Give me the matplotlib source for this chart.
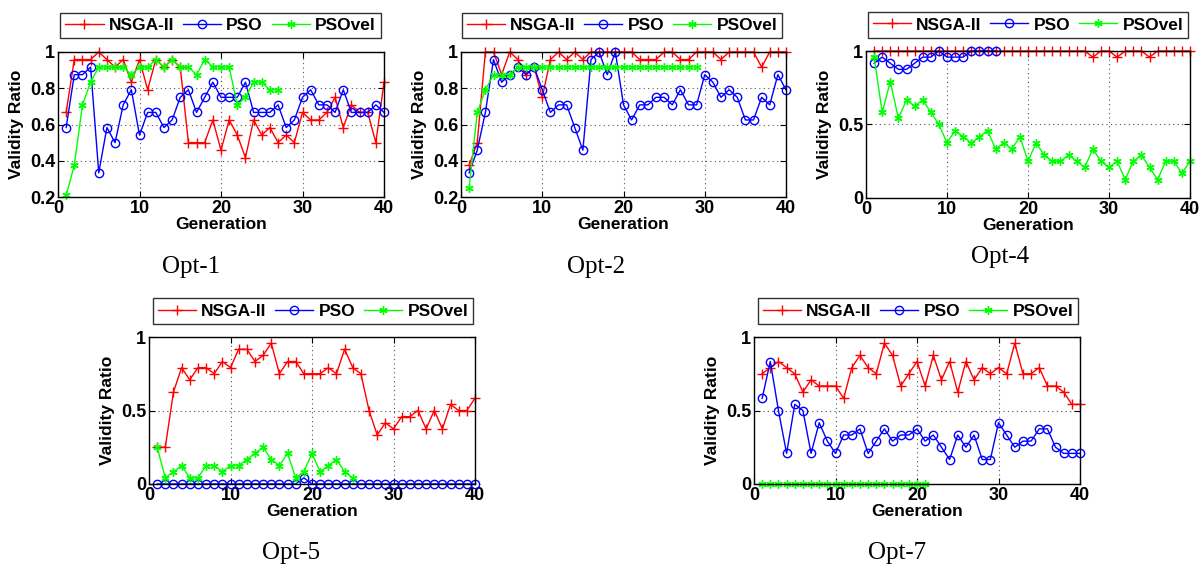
import matplotlib
matplotlib.use("Agg")
import matplotlib.pyplot as plt
import numpy as np

# Population size: validity ratio = valid individuals / POP_SIZE
POP_SIZE = 24

# Valid-individual counts per generation
opt1_nsga = [16, 23, 23, 23, 24, 23, 22, 23, 20, 23, 19, 23, 22, 23, 22, 12, 12, 12, 15, 11,
             15, 13, 10, 15, 13, 14, 12, 13, 12, 16, 15, 15, 16, 18, 14, 17, 16, 16, 12, 20]
opt1_pso = [14, 21, 21, 22, 8, 14, 12, 17, 19, 13, 16, 16, 14, 15, 18, 19, 16, 18, 20, 18,
            18, 18, 20, 16, 16, 16, 17, 14, 15, 18, 19, 17, 17, 16, 19, 16, 16, 16, 17, 16]
opt1_psovel = [5, 9, 17, 20, 22, 22, 22, 22, 21, 22, 22, 23, 22, 23, 22, 22, 21, 23, 22, 22,
               22, 17, 18, 20, 20, 19, 19]

opt2_nsga = [9, 12, 24, 24, 21, 24, 23, 21, 22, 18, 23, 24, 23, 24, 23, 24, 24, 24, 24, 24,
             24, 23, 23, 23, 24, 24, 23, 23, 24, 24, 24, 23, 24, 24, 24, 24, 22, 24, 24, 24]
opt2_pso = [8, 11, 16, 23, 20, 21, 22, 21, 22, 19, 16, 17, 17, 14, 11, 23, 24, 21, 24, 17,
            15, 17, 17, 18, 18, 17, 19, 17, 17, 21, 20, 18, 19, 18, 15, 15, 18, 17, 21, 19]
opt2_psovel = [6, 16, 19, 21, 21, 21, 22, 22, 22, 22, 22, 22, 22, 22, 22, 22, 22, 22, 22, 22,
               22, 22, 22, 22, 22, 22, 22, 22, 22]

opt4_nsga = [24, 24, 24, 24, 24, 24, 24, 24, 24, 24, 24, 24, 24, 24, 24, 24, 24, 24, 24, 24,
             24, 24, 24, 24, 24, 24, 24, 23, 24, 24, 23, 24, 24, 24, 23, 24, 24, 24, 24, 24]
opt4_pso = [22, 23, 22, 21, 21, 22, 23, 23, 24, 23, 23, 23, 24, 24, 24, 24]
opt4_psovel = [23, 14, 19, 13, 16, 15, 16, 14, 12, 9, 11, 10, 9, 10, 11, 8, 9, 8, 10, 6,
               9, 7, 6, 6, 7, 6, 5, 8, 6, 5, 6, 3, 6, 7, 5, 3, 6, 6, 4, 6]

opt5_nsga = [6, 6, 15, 19, 17, 19, 19, 18, 20, 19, 22, 22, 20, 21, 23, 18, 20, 20, 18, 18,
             18, 19, 18, 22, 19, 18, 12, 8, 10, 9, 11, 11, 12, 9, 12, 9, 13, 12, 12, 14]
opt5_pso = [0, 0, 0, 0, 0, 0, 0, 0, 0, 0, 0, 0, 0, 0, 0, 0, 0, 0, 1, 0,
            0, 0, 0, 0, 0, 0, 0, 0, 0, 0, 0, 0, 0, 0, 0, 0, 0, 0, 0, 0]
opt5_psovel = [6, 1, 2, 3, 1, 1, 3, 3, 2, 3, 3, 4, 5, 6, 4, 3, 5, 1, 2, 5,
               2, 3, 4, 2, 1]

opt7_nsga = [18, 19, 20, 19, 18, 15, 17, 16, 16, 16, 14, 19, 21, 19, 18, 23, 21, 16, 18, 20,
             16, 21, 17, 20, 15, 20, 17, 19, 18, 19, 18, 23, 18, 18, 19, 16, 16, 15, 13, 13]
opt7_pso = [14, 20, 12, 5, 13, 12, 5, 10, 7, 5, 8, 8, 9, 5, 7, 9, 7, 8, 8, 9,
            7, 8, 6, 4, 8, 6, 8, 4, 4, 10, 8, 6, 7, 7, 9, 9, 6, 5, 5, 5]
opt7_psovel = [0] * 21

series_labels = ["NSGA-II", "PSO", "PSOvel"]
panel_titles = ["Opt-1", "Opt-2", "Opt-4", "Opt-5", "Opt-7"]
x_label = "Generation"
y_label = "Validity Ratio"
x_ticks = [0, 10, 20, 30, 40]

W, H = 1204, 569
fig = plt.figure(figsize=(W / 100, H / 100), dpi=100)
plt.rcParams["font.family"] = ["Liberation Sans", "DejaVu Sans"]

def fx(px):
    return px / W

def fy(py):
    return 1 - py / H

# (left, top, right, bottom) of each axes in pixels, legend box, caption pos
panels = [
    dict(data=(opt1_nsga, opt1_pso, opt1_psovel), box=(58, 52, 384, 197),
         leg=(61, 12, 380, 39), ylim=(0.2, 1.0), yticks=[0.2, 0.4, 0.6, 0.8, 1.0],
         yticklabels=["0.2", "0.4", "0.6", "0.8", "1"], cap=(191, 267)),
    dict(data=(opt2_nsga, opt2_pso, opt2_psovel), box=(461, 52, 786, 197),
         leg=(463, 12, 781, 39), ylim=(0.2, 1.0), yticks=[0.2, 0.4, 0.6, 0.8, 1.0],
         yticklabels=["0.2", "0.4", "0.6", "0.8", "1"], cap=(596, 267)),
    dict(data=(opt4_nsga, opt4_pso, opt4_psovel), box=(866, 51, 1190, 198),
         leg=(868, 12, 1188, 38), ylim=(0.0, 1.0), yticks=[0.0, 0.5, 1.0],
         yticklabels=["0", "0.5", "1"], cap=(1000, 257)),
    dict(data=(opt5_nsga, opt5_pso, opt5_psovel), box=(149, 337, 475, 484),
         leg=(153, 298, 473, 324), ylim=(0.0, 1.0), yticks=[0.0, 0.5, 1.0],
         yticklabels=["0", "0.5", "1"], cap=(291, 553)),
    dict(data=(opt7_nsga, opt7_pso, opt7_psovel), box=(754, 337, 1080, 484),
         leg=(758, 298, 1078, 324), ylim=(0.0, 1.0), yticks=[0.0, 0.5, 1.0],
         yticklabels=["0", "0.5", "1"], cap=(897, 553)),
]

colors = ["#ff0000", "#0000ff", "#00ff00"]
markers = ["+", "o", (6, 2, 0)]
msizes = [7, 6, 6]

for title, p in zip(panel_titles, panels):
    l, t, r, b = p["box"]
    ax = fig.add_axes([fx(l), fy(b), fx(r - l), (b - t) / H])
    handles = []
    for counts, c, m, ms, lab in zip(p["data"], colors, markers, msizes, series_labels):
        y = np.asarray(counts, dtype=float) / POP_SIZE
        x = np.arange(1, len(y) + 1)
        h, = ax.plot(x, y, color=c, marker=m, markersize=ms, linewidth=1.0,
                     markerfacecolor="none" if m == "o" else c,
                     markeredgecolor=c, markeredgewidth=1.0, label=lab, clip_on=False)
        handles.append(h)
    ax.set_xlim(0, 40)
    ax.set_ylim(*p["ylim"])
    ax.set_xticks(x_ticks)
    ax.set_xticklabels([str(v) for v in x_ticks])
    ax.set_yticks(p["yticks"])
    ax.set_yticklabels(p["yticklabels"])
    ax.tick_params(direction="in", length=4, width=0.8, top=True, right=True,
                   labelsize=13, pad=2)
    for lbl in ax.get_xticklabels() + ax.get_yticklabels():
        lbl.set_fontweight("bold")
    ax.grid(True, linestyle=(0, (1, 3)), color="#555555", linewidth=0.8)
    for s in ax.spines.values():
        s.set_linewidth(1.0)
        s.set_color("black")
    ax.set_xlabel(x_label, fontsize=12.5, fontweight="bold", labelpad=0)
    ax.set_ylabel(y_label, fontsize=12.5, fontweight="bold", labelpad=4)

    ll, lt, lr, lb = p["leg"]
    leg = ax.legend(handles=handles, loc="center", ncol=3,
                    bbox_to_anchor=(fx(ll), fy(lb), fx(lr - ll), (lb - lt) / H),
                    bbox_transform=fig.transFigure, frameon=True, fancybox=False,
                    edgecolor="black", borderpad=0.3, borderaxespad=0,
                    handlelength=2.2, handletextpad=0.3, columnspacing=0.5,
                    prop=dict(weight="bold", size=12.5))
    leg.get_frame().set_linewidth(1.0)

    cx, cy = p["cap"]
    fig.text(fx(cx), fy(cy), title, ha="center", va="center",
             fontsize=18, family=["Liberation Serif", "DejaVu Serif"])

fig.savefig("out.png", dpi=100, facecolor="white")
